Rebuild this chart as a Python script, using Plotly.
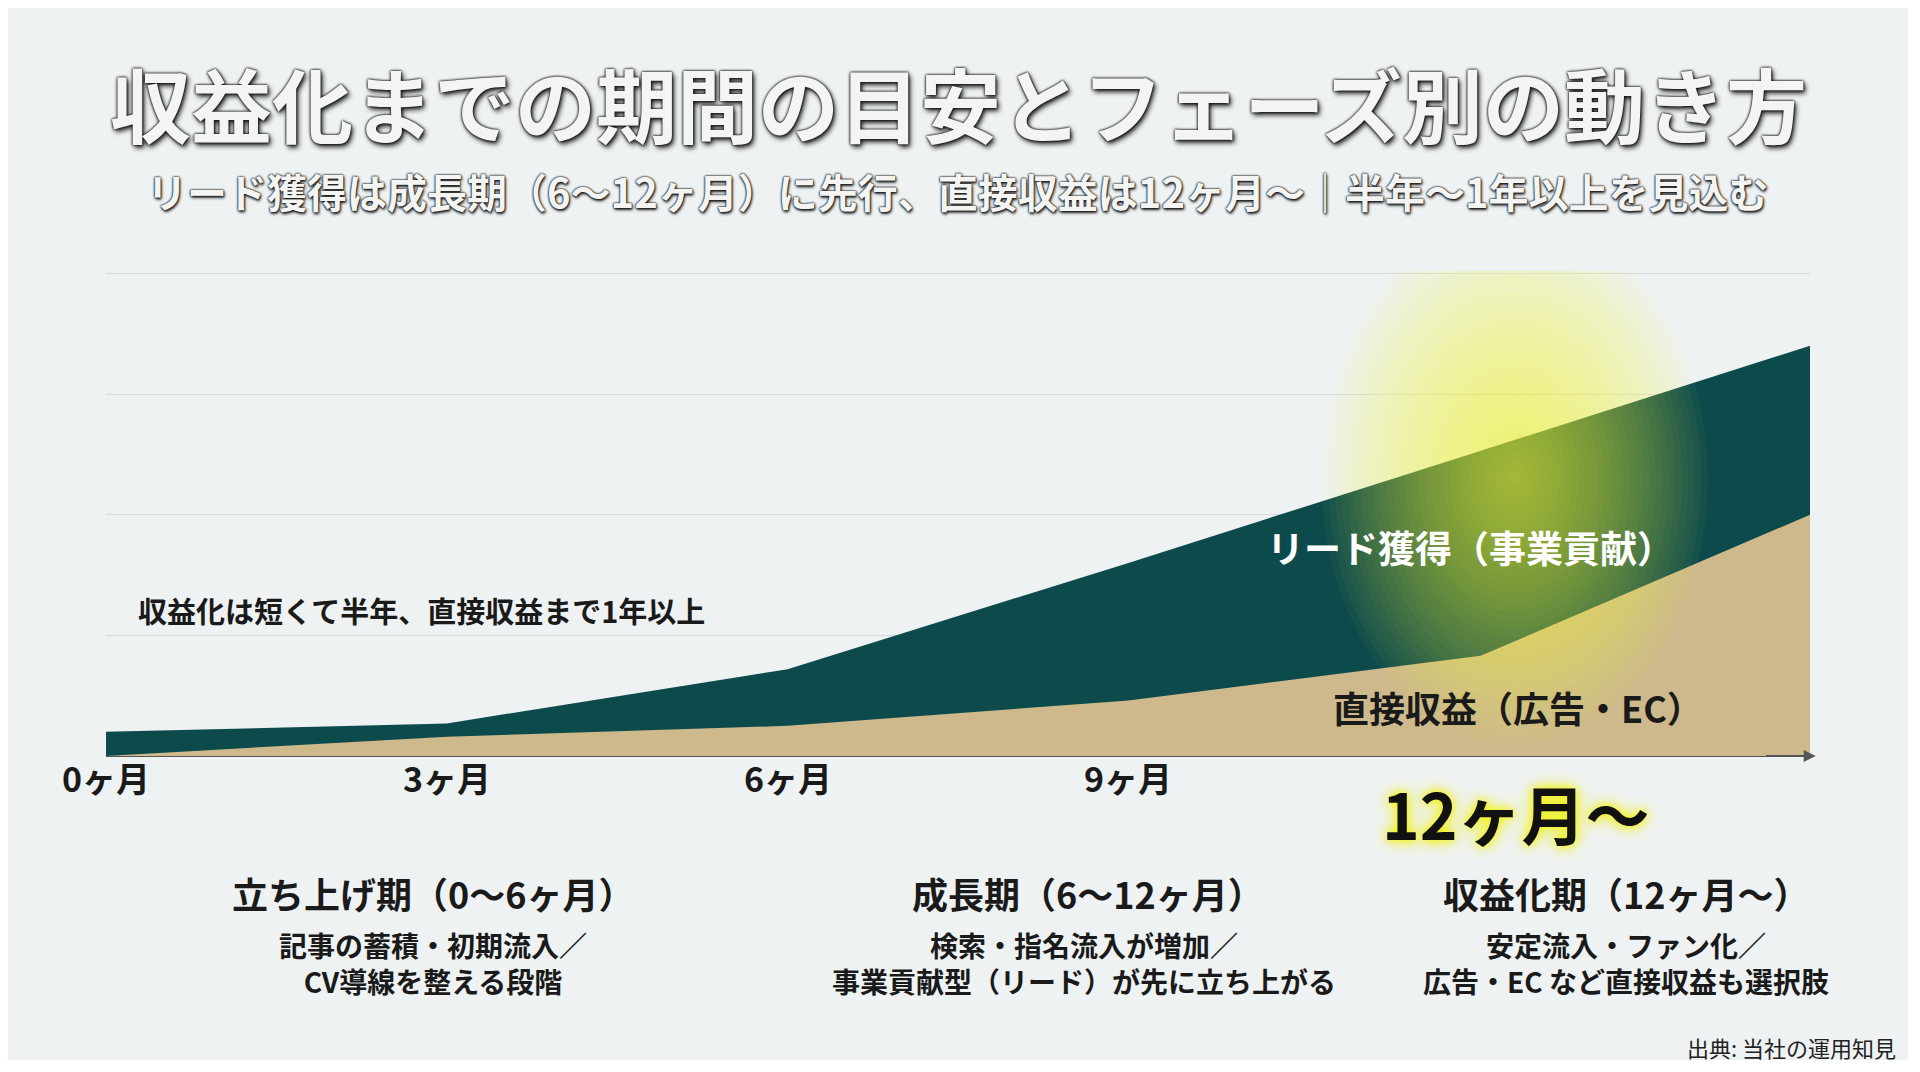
import plotly.graph_objects as go

# data (months, stacked level)
months = [0, 3, 6, 9, 12, 15]
lead = [0.2, 0.27, 0.72, 1.6, 2.5, 3.4]
direct_months = [0, 3, 6, 9, 12.1, 15]
direct = [0.0, 0.16, 0.25, 0.46, 0.83, 2.0]
tick_months = [0, 3, 6, 9]
tick_labels = ["0ヶ月", "3ヶ月", "6ヶ月", "9ヶ月"]

OFF = 10  # page body margin compensation
W, H = 1920 - 2 * OFF, 1072 - 2 * OFF
L, T = 108 - OFF, 273 - OFF
R = 1920 - 1812 - OFF
B = H - (758 - OFF)
PW, PH = W - L - R, H - T - B
FONT = "Noto Sans CJK JP"


def px(x, y):
    x, y = x - OFF, y - OFF
    return (x - L) / PW, (H - B - y) / PH


fig = go.Figure()
fig.add_trace(go.Scatter(x=months, y=lead, fill="tozeroy", mode="lines",
                         line=dict(width=0, color="#0d4a4c"), fillcolor="#0d4a4c"))
fig.add_trace(go.Scatter(x=direct_months, y=direct, fill="tozeroy", mode="lines",
                         line=dict(width=0, color="#cdb98b"), fillcolor="#cdb98b"))

# yellow glow
shapes = []
N = 30
for i in range(N):
    f = 1 - i / N
    shapes.append(dict(type="circle", xref="x", yref="y",
                       x0=12.4 - 1.7 * f, x1=12.4 + 1.7 * f,
                       y0=2.3 - 2.2 * f, y1=2.3 + 2.2 * f,
                       fillcolor="rgba(250,245,60,0.035)", line=dict(width=0), layer="above"))
fig.update_layout(shapes=shapes)

ann = []


def text(s, x, y, size, color="#1a1a1a", bold=True, xanchor="center", shadow=None):
    fx, fy = px(x, y)
    ann.append(dict(text=f"<b>{s}</b>" if bold else s, x=fx, y=fy, xref="paper", yref="paper",
                    showarrow=False, xanchor=xanchor, yanchor="middle",
                    font=dict(family=FONT, size=size, color=color, shadow=shadow or "none")))


text("収益化までの期間の目安とフェーズ別の動き方", 960, 104, 81, "#f4f4f2",
     shadow="0px 0px 2px #111, 0px 0px 3px #111, 2px 3px 5px #222")
text("リード獲得は成長期（6〜12ヶ月）に先行、直接収益は12ヶ月〜｜半年〜1年以上を見込む", 960, 193, 40,
     "#f4f4f2", shadow="0px 0px 2px #111, 0px 0px 2px #111, 1px 2px 3px #222")
text("収益化は短くて半年、直接収益まで1年以上", 138, 612, 29, xanchor="left")
text("リード獲得（事業貢献）", 1472, 549, 37, "#ffffff")
text("直接収益（広告・EC）", 1520, 709, 36)
for m, lab in zip(tick_months, tick_labels):
    ann.append(dict(text=f"<b>{lab}</b>", x=m, y=px(0, 806)[1], xref="x", yref="paper",
                    showarrow=False, font=dict(family=FONT, size=34, color="#1a1a1a")))
text("12ヶ月〜", 1518, 814, 64, "#111111", shadow="0px 0px 18px #f0f000, 0px 0px 8px #f5f500")
text("立ち上げ期（0〜6ヶ月）", 435, 895, 36)
text("成長期（6〜12ヶ月）", 1090, 895, 36)
text("収益化期（12ヶ月〜）", 1628, 895, 36)
text("記事の蓄積・初期流入／<br>CV導線を整える段階", 435, 965, 28)
text("検索・指名流入が増加／<br>事業貢献型（リード）が先に立ち上がる", 1086, 965, 28)
text("安定流入・ファン化／<br>広告・EC など直接収益も選択肢", 1628, 965, 28)
text("出典: 当社の運用知見", 1900, 1049, 22, "#222", bold=False, xanchor="right")
# axis arrow
ann.append(dict(x=15.05, y=0, ax=14.6, ay=0, xref="x", yref="y", axref="x", ayref="y",
                showarrow=True, arrowhead=2, arrowsize=1.2, arrowwidth=2, arrowcolor="#555", text=""))

fig.update_layout(
    width=W, height=H, margin=dict(l=L, r=R, t=T, b=B),
    paper_bgcolor="#eef2f3", plot_bgcolor="#eef2f3", showlegend=False,
    annotations=ann,
    xaxis=dict(range=[0, 15], showgrid=False, zeroline=False, showticklabels=False,
               showline=False),
    yaxis=dict(range=[0, 4.02], tickvals=[1, 2, 3, 4], showticklabels=False, gridcolor="#d6dadc",
               gridwidth=1, zeroline=True, zerolinecolor="#555", zerolinewidth=2),
)
fig.write_html("out.html")
